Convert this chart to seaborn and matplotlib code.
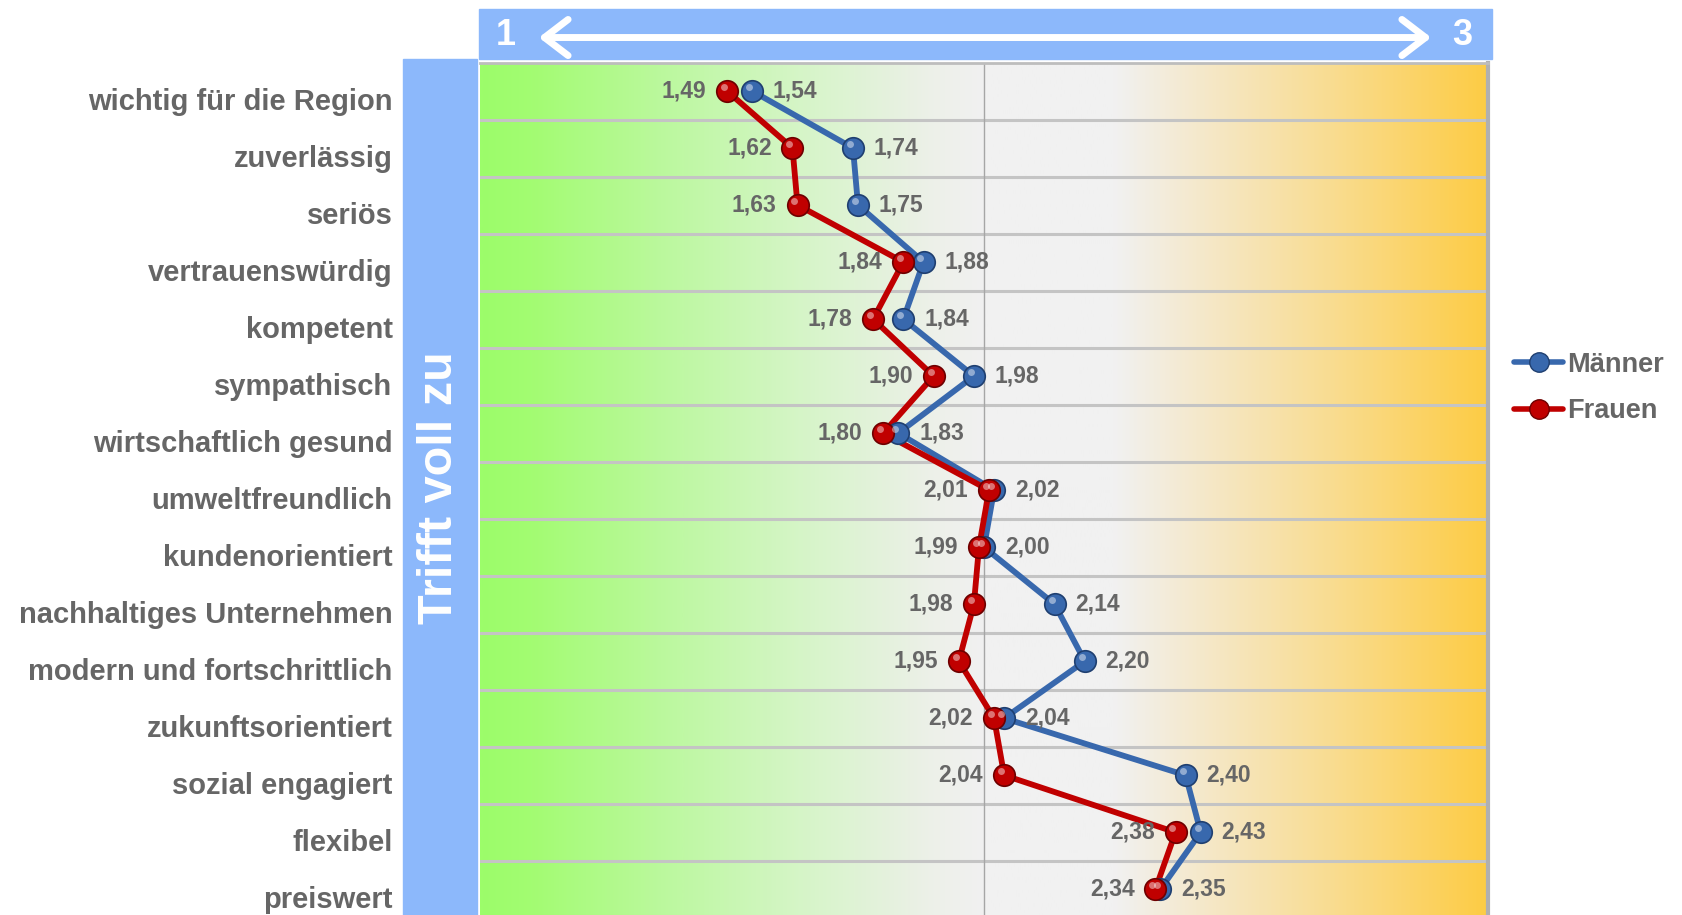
import numpy as np
import pandas as pd
import seaborn as sns
import matplotlib.pyplot as plt
from matplotlib.colors import LinearSegmentedColormap
from matplotlib.patches import Rectangle, FancyArrowPatch
from matplotlib.lines import Line2D
from matplotlib.transforms import ScaledTranslation

# Daten
kategorien = ["wichtig für die Region", "zuverlässig", "seriös", "vertrauenswürdig",
              "kompetent", "sympathisch", "wirtschaftlich gesund", "umweltfreundlich",
              "kundenorientiert", "nachhaltiges Unternehmen", "modern und fortschrittlich",
              "zukunftsorientiert", "sozial engagiert", "flexibel", "preiswert"]
maenner = [1.54, 1.74, 1.75, 1.88, 1.84, 1.98, 1.83, 2.02, 2.00, 2.14, 2.20, 2.04, 2.40, 2.43, 2.35]
frauen = [1.49, 1.62, 1.63, 1.84, 1.78, 1.90, 1.80, 2.01, 1.99, 1.98, 1.95, 2.02, 2.04, 2.38, 2.34]
gruppen = ["Männer", "Frauen"]

pos = np.arange(len(kategorien))
df = pd.DataFrame({
    "wert": maenner + frauen,
    "pos": np.concatenate([pos, pos]),
    "gruppe": ["Männer"] * len(pos) + ["Frauen"] * len(pos),
})

sns.set_style("white")
plt.rcParams['font.family'] = ['Liberation Sans', 'DejaVu Sans']

GRAU = "#666666"
BLAU = "#8cb8fb"
farben = {"Männer": "#3868ad", "Frauen": "#c00000"}
dunkel = {"Männer": "#1f3f70", "Frauen": "#6e0000"}

fig = plt.figure(figsize=(16.82, 9.15), dpi=100)
ax = fig.add_axes([480 / 1682, 0, 1008 / 1682, 852.5 / 915])

# Hintergrund-Verlauf grün -> grau -> orange
cmap = LinearSegmentedColormap.from_list("bg", [
    (0.00, "#9cfd6a"), (0.05, "#a3fc72"), (0.20, "#bff8a4"), (0.32, "#d6f5c8"),
    (0.45, "#edf0e9"), (0.50, "#f1f1f1"), (0.63, "#f1f1f1"), (0.72, "#f5e8c9"),
    (0.85, "#f9dc8f"), (1.00, "#fdcc45")])
ylim = (14 + 25.7 / 57, -0.5)
ax.imshow(np.linspace(0, 1, 512)[None, :], cmap=cmap, aspect="auto",
          extent=[1, 3, ylim[0], ylim[1]], zorder=0, interpolation="bilinear")

for y in pos[:-1] + 0.5:
    ax.axhline(y, color="#c4c4c4", lw=2.2, zorder=1)
ax.axvline(2, color="#a6a6a6", lw=1.0, zorder=1)

# Linien und Kugeln
for g in gruppen:
    sub = df[df["gruppe"] == g]
    sns.lineplot(data=sub, x="wert", y="pos", orient="y", sort=False, ax=ax,
                 color=farben[g], lw=4.2, zorder=3, legend=False)
for g in gruppen:
    sub = df[df["gruppe"] == g]
    sns.scatterplot(data=sub, x="wert", y="pos", ax=ax, color=farben[g], s=240,
                    edgecolor=dunkel[g], linewidth=1.2, zorder=4, legend=False)
    hl = sub.assign(wert=sub["wert"] - 0.006, pos=sub["pos"] - 0.07)
    sns.scatterplot(data=hl, x="wert", y="pos", ax=ax, color="white", alpha=0.45,
                    s=25, linewidth=0, zorder=5, legend=False)

# Datenbeschriftungen
for v, p in zip(maenner, pos):
    ax.annotate(f"{v:.2f}".replace(".", ","), (v, p), xytext=(15, 0),
                textcoords="offset points", ha="left", va="center",
                fontsize=16.5, fontweight="bold", color=GRAU, zorder=6)
for v, p in zip(frauen, pos):
    ax.annotate(f"{v:.2f}".replace(".", ","), (v, p), xytext=(-15, 0),
                textcoords="offset points", ha="right", va="center",
                fontsize=16.5, fontweight="bold", color=GRAU, zorder=6)

ax.set_xlim(1, 3)
ax.set_ylim(*ylim)
ax.set_xlabel("")
ax.set_ylabel("")
ax.set_xticks([])
ax.set_yticks(pos)
ax.set_yticklabels(kategorien, fontsize=21, fontweight="bold", color=GRAU)
ax.tick_params(axis="y", length=0, pad=63)
for lab in ax.get_yticklabels():
    lab.set_transform(lab.get_transform() + ScaledTranslation(0, -0.08, fig.dpi_scale_trans))
for s in ["left", "bottom"]:
    ax.spines[s].set_visible(False)
ax.spines["top"].set_color("#bdbdbd")
ax.spines["top"].set_linewidth(2)
ax.spines["right"].set_color("#b0b0b0")
ax.spines["right"].set_linewidth(3)

# Blaue Balken oben und links
fig.add_artist(Rectangle((479 / 1682, 1 - 59 / 915), 1013 / 1682, 50 / 915,
                         transform=fig.transFigure, color=BLAU, zorder=0))
fig.add_artist(Rectangle((403 / 1682, 0), 74 / 1682, 1 - 59 / 915,
                         transform=fig.transFigure, color=BLAU, zorder=0))
fig.add_artist(FancyArrowPatch((536 / 1682, 0.959), (1434 / 1682, 0.959),
                               transform=fig.transFigure, arrowstyle="<->,head_length=17,head_width=13",
                               color="white", lw=5, mutation_scale=1, joinstyle="round",
                               capstyle="round"))
fig.text(506 / 1682, 0.961, "1", color="white", fontsize=26, fontweight="bold",
         ha="center", va="center")
fig.text(1462 / 1682, 0.961, "3", color="white", fontsize=26, fontweight="bold",
         ha="center", va="center")
fig.text(440 / 1682, 1 - 488 / 915, "Trifft voll zu", color="white", fontsize=35,
         fontweight="bold", rotation=90, ha="center", va="center")

# Legende
handles = [Line2D([], [], color=farben[g], lw=4, marker="o", markersize=14,
                  markerfacecolor=farben[g], markeredgecolor=dunkel[g]) for g in gruppen]
leg = fig.legend(handles, gruppen, loc="center left", bbox_to_anchor=(1490 / 1682, 1 - 388 / 915),
                 frameon=False, handlelength=1.8, handletextpad=0.15, labelspacing=0.75,
                 prop={"size": 19.5, "weight": "bold"})
for t in leg.get_texts():
    t.set_color(GRAU)

fig.savefig("out.png", dpi=100)
